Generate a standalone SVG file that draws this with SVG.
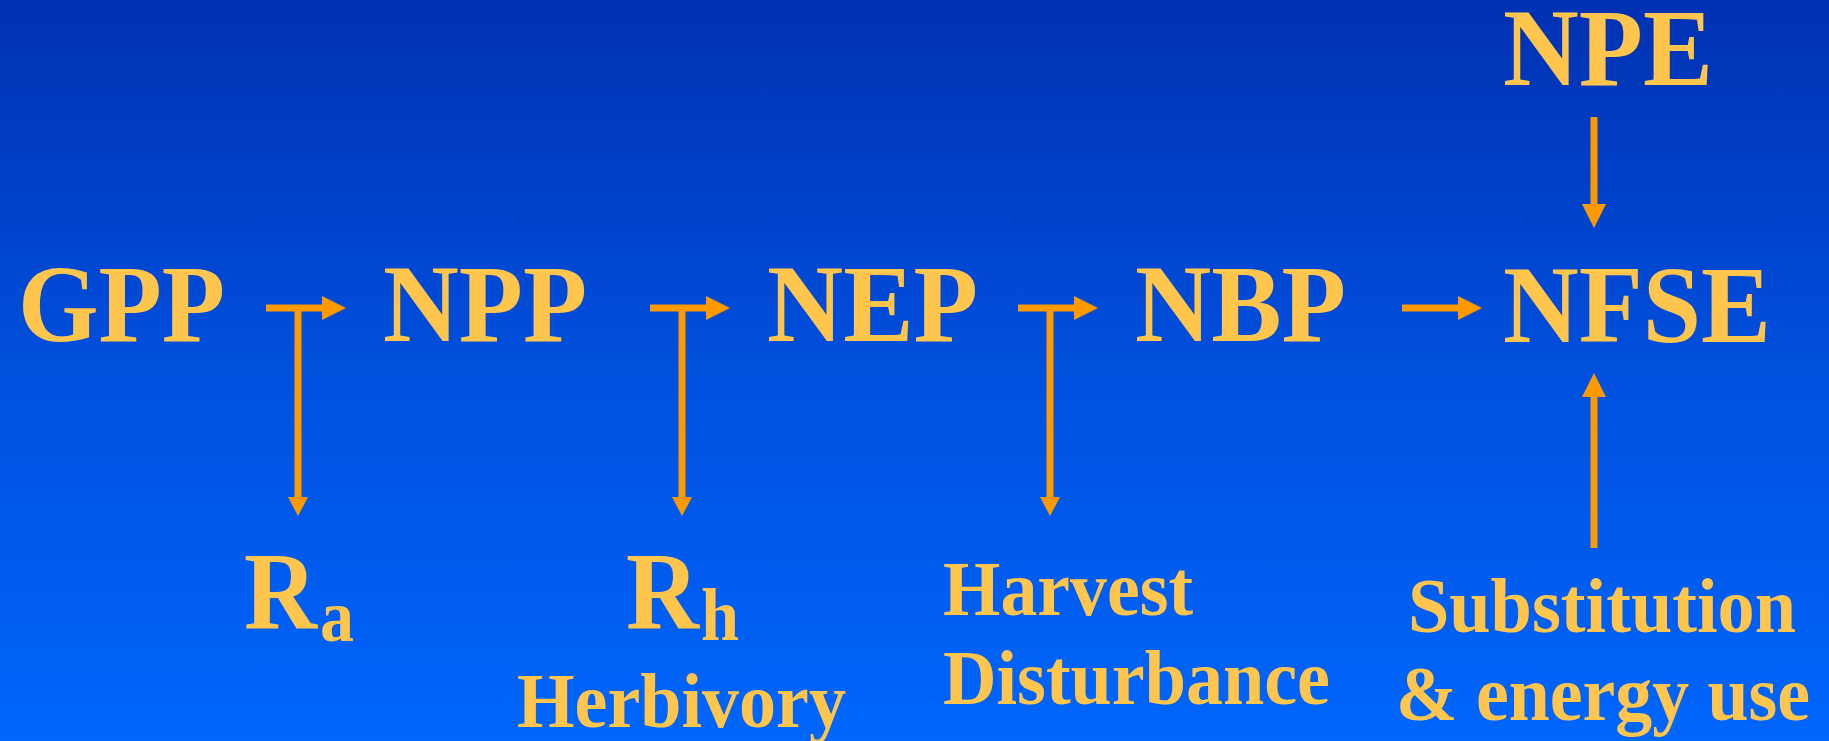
<svg xmlns="http://www.w3.org/2000/svg" width="1829" height="741" viewBox="0 0 1829 741">
<defs>
<linearGradient id="bg" x1="0" y1="0" x2="0" y2="1">
<stop offset="0" stop-color="#0031B2"/>
<stop offset="0.5" stop-color="#0050DE"/>
<stop offset="1" stop-color="#0066FC"/>
</linearGradient>
<style>
.t{font-family:"Liberation Serif","Times New Roman",serif;font-weight:bold;fill:#FFC54C;}
.big{font-size:110px;}
.mid{font-size:79px;}
.sub{font-size:74px;}
.ln{stroke:#FF9900;stroke-width:7;fill:none;}
.hd{fill:#FF9900;}
</style>
</defs>
<rect width="1829" height="741" fill="url(#bg)"/>
<g id="connectors">
<path class="ln" d="M266,308 H323 M298,308 V498"/>
<polygon class="hd" points="322,296 346,308 322,320"/>
<polygon class="hd" points="288,497 308,497 298,516"/>
<path class="ln" d="M650,308 H707 M682,308 V498"/>
<polygon class="hd" points="706,296 730,308 706,320"/>
<polygon class="hd" points="672,497 692,497 682,516"/>
<path class="ln" d="M1018,308 H1075 M1050,308 V498"/>
<polygon class="hd" points="1074,296 1098,308 1074,320"/>
<polygon class="hd" points="1040,497 1060,497 1050,516"/>
<path class="ln" d="M1402,308 H1459"/>
<polygon class="hd" points="1458,296 1482,308 1458,320"/>
<path class="ln" d="M1594,117 V205"/>
<polygon class="hd" points="1582,204 1606,204 1594,228"/>
<path class="ln" d="M1594,548 V396"/>
<polygon class="hd" points="1582,397 1606,397 1594,373"/>
</g>
<g id="GPP"><text class="t big" x="18" y="341" textLength="207" lengthAdjust="spacingAndGlyphs">GPP</text></g>
<g id="NPP"><text class="t big" x="383" y="341" textLength="204" lengthAdjust="spacingAndGlyphs">NPP</text></g>
<g id="NEP"><text class="t big" x="767" y="341" textLength="211" lengthAdjust="spacingAndGlyphs">NEP</text></g>
<g id="NBP"><text class="t big" x="1135" y="341" textLength="211" lengthAdjust="spacingAndGlyphs">NBP</text></g>
<g id="NFSE"><text class="t big" x="1503" y="342" textLength="268" lengthAdjust="spacingAndGlyphs">NFSE</text></g>
<g id="NPE"><text class="t big" x="1503" y="85" textLength="210" lengthAdjust="spacingAndGlyphs">NPE</text></g>
<g id="Ra">
<text class="t big" x="244" y="629" textLength="73" lengthAdjust="spacingAndGlyphs">R</text>
<text class="t sub" x="320" y="641" textLength="34" lengthAdjust="spacingAndGlyphs">a</text>
</g>
<g id="Rh">
<text class="t big" x="626" y="629" textLength="73" lengthAdjust="spacingAndGlyphs">R</text>
<text class="t sub" x="701" y="640" textLength="38" lengthAdjust="spacingAndGlyphs">h</text>
<text class="t mid" x="517" y="727" textLength="329" lengthAdjust="spacingAndGlyphs">Herbivory</text>
</g>
<g id="Harvest">
<text class="t mid" x="943" y="615" textLength="250" lengthAdjust="spacingAndGlyphs">Harvest</text>
<text class="t mid" x="943" y="704" textLength="387" lengthAdjust="spacingAndGlyphs">Disturbance</text>
</g>
<g id="Substitution">
<text class="t mid" x="1408" y="632" textLength="388" lengthAdjust="spacingAndGlyphs">Substitution</text>
<text class="t mid" x="1396" y="720" textLength="414" lengthAdjust="spacingAndGlyphs">&amp; energy use</text>
</g>
</svg>
